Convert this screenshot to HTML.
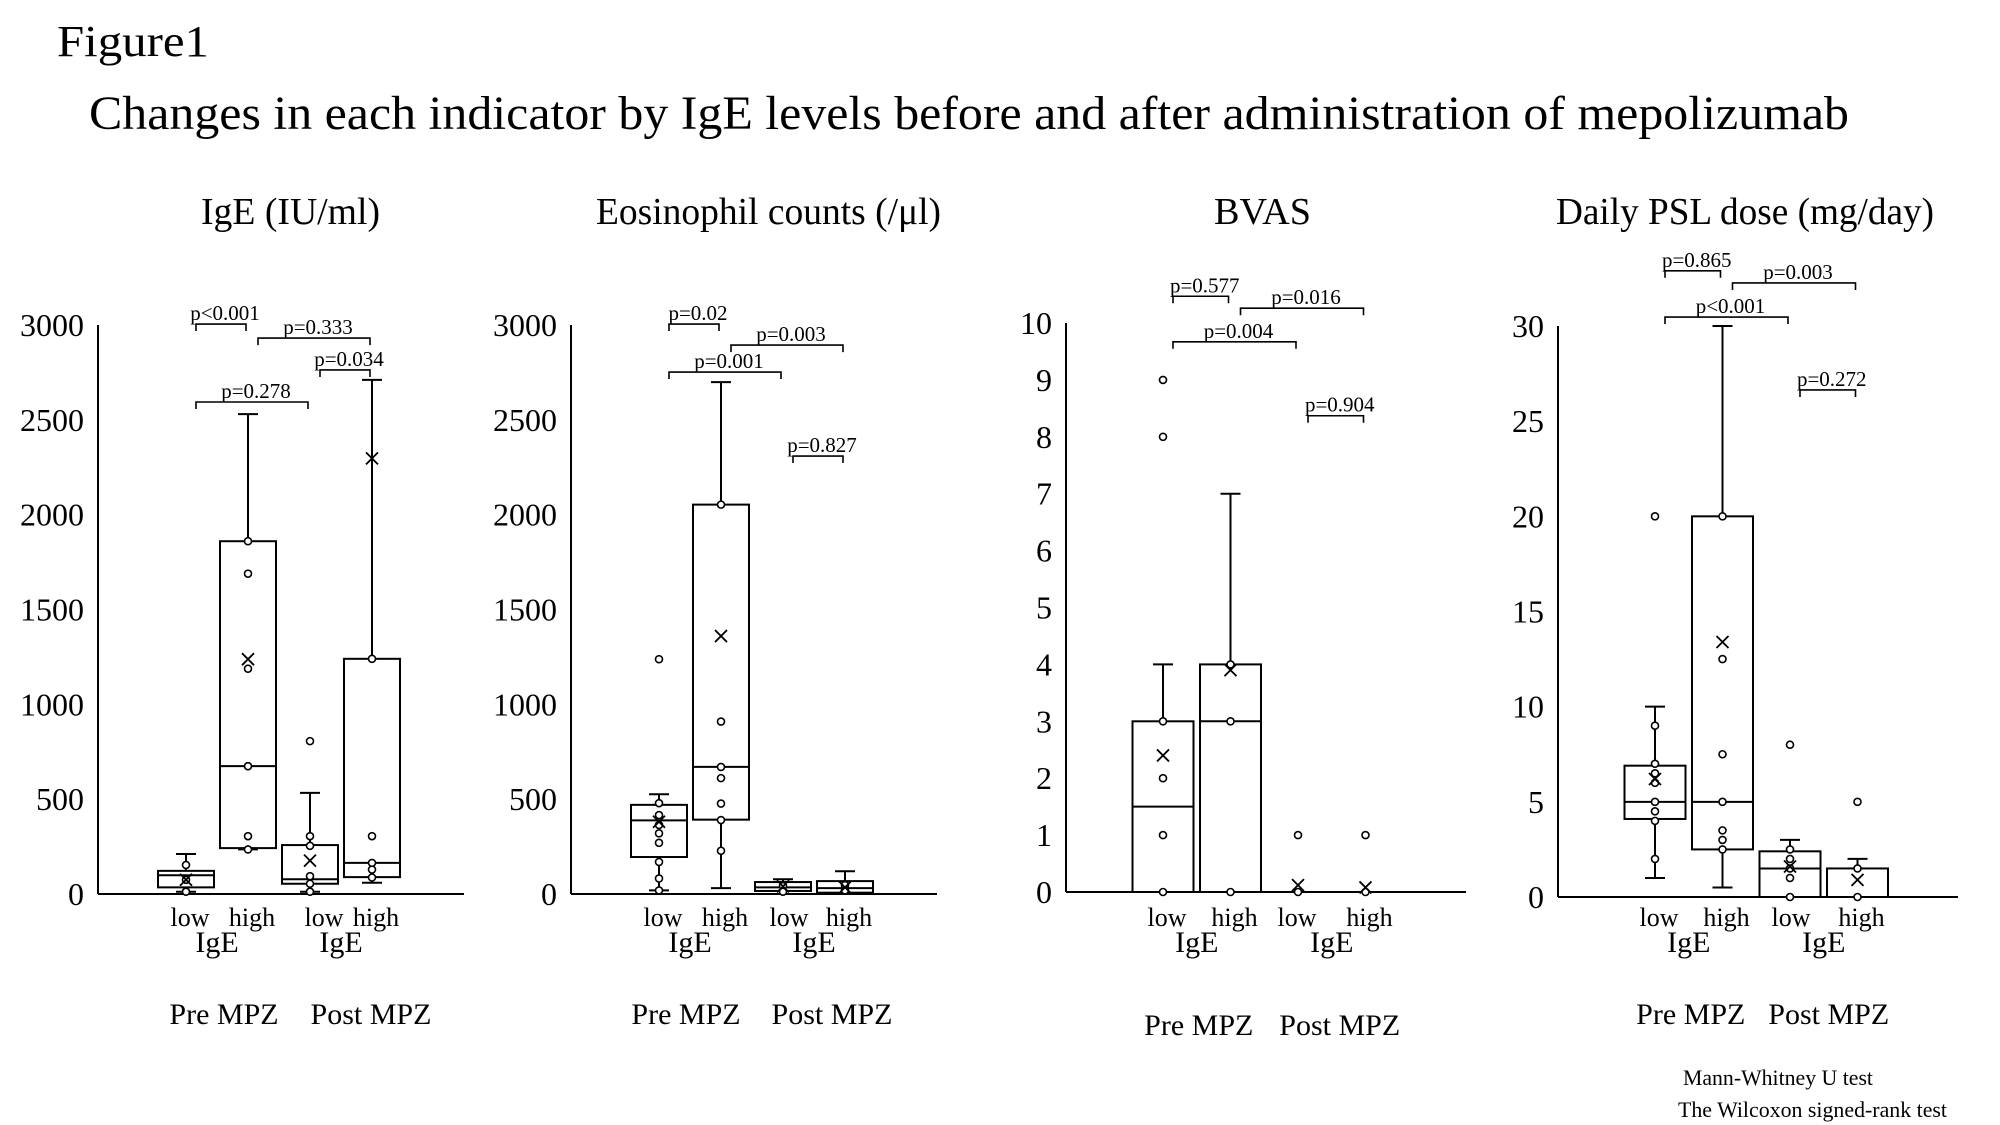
<!DOCTYPE html>
<html><head><meta charset="utf-8"><style>
html,body{margin:0;padding:0;background:#fff;}
svg{display:block;font-family:"Liberation Serif",serif;}
</style></head><body>
<svg id="fig" width="2000" height="1125" viewBox="0 0 2000 1125" xmlns="http://www.w3.org/2000/svg">
<text x="57" y="56" font-size="44" textLength="152" lengthAdjust="spacingAndGlyphs">Figure1</text>
<text x="89" y="129" font-size="48" textLength="1760" lengthAdjust="spacingAndGlyphs">Changes in each indicator by IgE levels before and after administration of mepolizumab</text>
<text x="201" y="224" font-size="38" textLength="179" lengthAdjust="spacingAndGlyphs">IgE (IU/ml)</text>
<text x="596" y="224" font-size="38" textLength="345" lengthAdjust="spacingAndGlyphs">Eosinophil counts (/μl)</text>
<text x="1214" y="224" font-size="38" textLength="97" lengthAdjust="spacingAndGlyphs">BVAS</text>
<text x="1556" y="224" font-size="38" textLength="378" lengthAdjust="spacingAndGlyphs">Daily PSL dose (mg/day)</text>
<text x="1683" y="1085" font-size="22" textLength="190" lengthAdjust="spacingAndGlyphs">Mann-Whitney U test</text>
<text x="1678" y="1117" font-size="22" textLength="269" lengthAdjust="spacingAndGlyphs">The Wilcoxon signed-rank test</text>
</svg>
<script>
const cats = ['low','high','low','high'];
// Panel 1: IgE
const p1Lo = [12,235,12,59];
const p1Q1 = [35,242,54,89];
const p1Med = [99,674,78,164];
const p1Q3 = [122,1860,258,1240];
const p1Hi = [211,2530,533,2711];
const p1Mean = [75,1238,176,2297];
const p1Pts = [[153,75,12],[1860,1689,1188,674,305,235],[806,305,254,94,54,12],[1240,305,164,129,87]];
const p1Ticks = [0,500,1000,1500,2000,2500,3000];
const p1BrFrom = [0,1,2,0];
const p1BrTo = [1,3,3,2];
const p1BrLevel = [3005,2931,2763,2594];
const p1BrLabel = ['p<0.001','p=0.333','p=0.034','p=0.278'];
// Panel 2: Eosinophil
const p2Lo = [19,31,0,0];
const p2Q1 = [195,392,16,7];
const p2Med = [388,670,35,31];
const p2Q3 = [470,2053,63,68];
const p2Hi = [526,2699,78,120];
const p2Mean = [381,1360,40,35];
const p2Pts = [[1238,479,416,364,320,270,169,82,19],[2053,909,670,611,477,390,228],[42,12],[47,19]];
const p2Ticks = [0,500,1000,1500,2000,2500,3000];
const p2BrFrom = [0,1,0,2];
const p2BrTo = [1,3,2,3];
const p2BrLevel = [3005,2894,2752,2309];
const p2BrLabel = ['p=0.02','p=0.003','p=0.001','p=0.827'];
// Panel 3: BVAS
const p3Lo = [0,0,0,0];
const p3Q1 = [0,0,0,0];
const p3Med = [1.5,3,0,0];
const p3Q3 = [3,4,0,0];
const p3Hi = [4,7,0,0];
const p3Mean = [2.4,3.9,0.12,0.08];
const p3Pts = [[9,8,3,2,1,0],[4,3,0],[1,0],[1,0]];
const p3Ticks = [0,1,2,3,4,5,6,7,8,9,10];
const p3BrFrom = [0,1,0,2];
const p3BrTo = [1,3,2,3];
const p3BrLevel = [10.47,10.26,9.67,8.37];
const p3BrLabel = ['p=0.577','p=0.016','p=0.004','p=0.904'];
// Panel 4: PSL
const p4Lo = [1,0.5,0,0];
const p4Q1 = [4.1,2.5,0,0];
const p4Med = [5,5,1.5,0];
const p4Q3 = [6.9,20,2.4,1.5];
const p4Hi = [10,30,3,2];
const p4Mean = [6.2,13.4,1.6,0.9];
const p4Pts = [[20,9,7,6.5,6,5,4.5,4,2],[20,12.5,7.5,5,3.5,3,2.5],[8,2.5,2,1.5,1,0],[5,1.5,0]];
const p4Ticks = [0,5,10,15,20,25,30];
const p4BrFrom = [0,1,0,2];
const p4BrTo = [1,3,2,3];
const p4BrLevel = [32.9,32.26,30.47,26.64];
const p4BrLabel = ['p=0.865','p=0.003','p<0.001','p=0.272'];

const NS = 'http://www.w3.org/2000/svg';
const svg = document.getElementById('fig');
function mk(tag, attrs, parent){
  const e = document.createElementNS(NS, tag);
  for (const k in attrs) e.setAttribute(k, attrs[k]);
  (parent||svg).appendChild(e);
  return e;
}
function panel(id, g, lo, q1, med, q3, hi, mean, pts, ticks, brFrom, brTo, brLevel, brLabel){
  const grp = mk('g', {});
  
  
  const maxV = ticks[ticks.length-1];
  const y = v => g.zero - (v / maxV) * (g.zero - g.top);
  const x = i => g.axisX + g.first + i * g.step;
  const st = {stroke:'#000','stroke-width':2,fill:'none'};
  const yAxis = mk('line', Object.assign({x1:g.axisX,y1:g.top,x2:g.axisX,y2:g.zero}, st), grp);
  
  
  const xAxis = mk('line', Object.assign({x1:g.axisX,y1:g.zero,x2:g.axisX+g.len,y2:g.zero}, st), grp);
  
  
  ticks.forEach(t => {
    const tl = mk('text', {x:g.axisX-14, y:y(t)+11, 'font-size':32, 'text-anchor':'end'}, grp);
    tl.textContent = t;
    
    
  });
  const hw = g.box / 2;
  for (let i = 0; i < 4; i++) {
    const cx = x(i);
    const bg = mk('g', {}, grp);
    
    
    if (hi[i] > q3[i]) {
      mk('line', Object.assign({x1:cx,y1:y(q3[i]),x2:cx,y2:y(hi[i])}, st), bg);
      mk('line', Object.assign({x1:cx-10,y1:y(hi[i]),x2:cx+10,y2:y(hi[i])}, st), bg);
    }
    if (lo[i] < q1[i]) {
      mk('line', Object.assign({x1:cx,y1:y(q1[i]),x2:cx,y2:y(lo[i])}, st), bg);
      mk('line', Object.assign({x1:cx-10,y1:y(lo[i]),x2:cx+10,y2:y(lo[i])}, st), bg);
    }
    mk('rect', Object.assign({x:cx-hw, y:y(q3[i]), width:g.box, height:Math.max(0, y(q1[i]) - y(q3[i]))}, st), bg);
    mk('line', Object.assign({x1:cx-hw,y1:y(med[i]),x2:cx+hw,y2:y(med[i])}, st), bg);
    pts[i].forEach(v => {
      const c = mk('circle', {cx:cx, cy:y(v), r:3.5, fill:'#fff', stroke:'#000', 'stroke-width':1.6}, bg);
      
      
    });
    const my = y(mean[i]);
    const m = mk('path', {d:`M${cx-6},${my-6}L${cx+6},${my+6}M${cx+6},${my-6}L${cx-6},${my+6}`, stroke:'#000', 'stroke-width':1.8, fill:'none'}, bg);
    
    
    const cl = mk('text', {x:cx+4+(i===2?g.lowShift:0), y:926, 'font-size':26, 'text-anchor':'middle'}, grp);
    cl.textContent = cats[i];
    
    
  }
  [0, 1].forEach(k => {
    const mx = (x(2*k) + x(2*k+1)) / 2;
    const ig = mk('text', {x:mx, y:952, 'font-size':30, 'text-anchor':'middle'}, grp);
    ig.textContent = 'IgE';
    
    
    const ph = mk('text', {x:mx+5+g.phaseShift[k], y:g.phaseY, 'font-size':30, 'text-anchor':'middle'}, grp);
    ph.textContent = k === 0 ? 'Pre MPZ' : 'Post MPZ';
    
    
  });
  brFrom.forEach((a, j) => {
    const x1 = x(a) + 10, x2 = x(brTo[j]) - 2, by = y(brLevel[j]);
    const br = mk('path', {d:`M${x1},${by+7}V${by}H${x2}V${by+7}`, stroke:'#000', 'stroke-width':1.6, fill:'none'}, grp);
    
    
    const bl = mk('text', {x:(x1+x2)/2+4, y:by-4, 'font-size':21, 'text-anchor':'middle'}, grp);
    bl.textContent = brLabel[j];
    
    
  });
}
panel('ige', {axisX:98, top:325, zero:894, len:366, first:88, step:62, box:56, phaseY:1024, phaseShift:[2,25], lowShift:10}, p1Lo,p1Q1,p1Med,p1Q3,p1Hi,p1Mean,p1Pts,p1Ticks,p1BrFrom,p1BrTo,p1BrLevel,p1BrLabel);
panel('eosinophil', {axisX:571, top:325, zero:894, len:366, first:88, step:62, box:56, phaseY:1024, phaseShift:[-9,13], lowShift:2}, p2Lo,p2Q1,p2Med,p2Q3,p2Hi,p2Mean,p2Pts,p2Ticks,p2BrFrom,p2BrTo,p2BrLevel,p2BrLabel);
panel('bvas', {axisX:1066, top:323, zero:892, len:400, first:97, step:67.5, box:61, phaseY:1035, phaseShift:[-3,3], lowShift:-5}, p3Lo,p3Q1,p3Med,p3Q3,p3Hi,p3Mean,p3Pts,p3Ticks,p3BrFrom,p3BrTo,p3BrLevel,p3BrLabel);
panel('psl', {axisX:1558, top:326, zero:897, len:400, first:97, step:67.5, box:61, phaseY:1024, phaseShift:[-3,0], lowShift:-3}, p4Lo,p4Q1,p4Med,p4Q3,p4Hi,p4Mean,p4Pts,p4Ticks,p4BrFrom,p4BrTo,p4BrLevel,p4BrLabel);
</script>
</body></html>
